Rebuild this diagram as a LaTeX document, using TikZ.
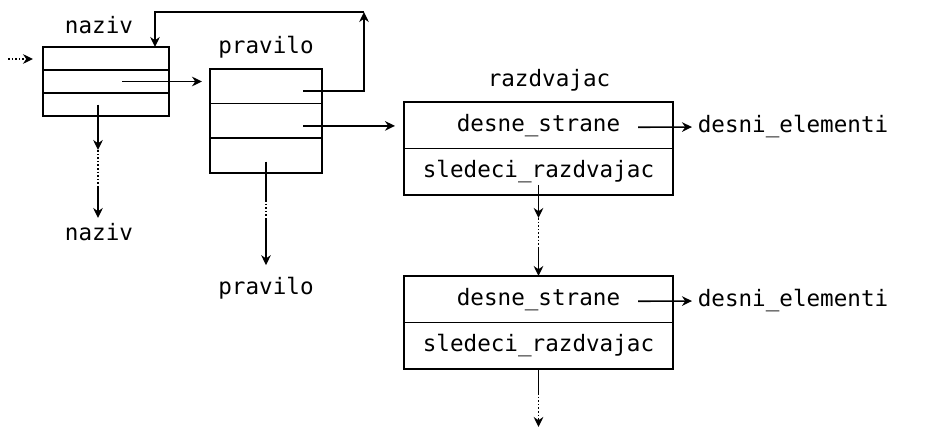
\documentclass[tikz,border=0pt]{standalone}
\usepackage{fontspec}
\setmonofont{DejaVu Sans Mono}
\usetikzlibrary{arrows.meta,positioning,calc}

\begin{document}
\begin{tikzpicture}[
  x=0.5pt,y=-0.5pt,line width=0.8pt,
  cell/.style={draw,outer sep=0pt,inner sep=0pt,font=\ttfamily\fontsize{11.3}{13}\selectfont},
  lbl/.style={inner sep=0pt,font=\ttfamily\fontsize{11.3}{13}\selectfont},
  arrow/.style={-{Stealth[length=5pt,width=4.8pt]}},
  dots/.style={densely dotted}
]
\useasboundingbox (0,0) rectangle (928,429);

% naziv record
\node[cell,minimum width=63pt,minimum height=11.5pt] (naz1) at (106,58.5) {};
\node[cell,minimum width=63pt,minimum height=11.5pt,below=0pt of naz1] (naz2) {};
\node[cell,minimum width=63pt,minimum height=11.5pt,below=0pt of naz2] (naz3) {};
\node[lbl] (naztop) at (99,25) {naziv};

% pravilo record
\node[cell,minimum width=56pt,minimum height=17.3pt] (pra1) at (266,86.3) {};
\node[cell,minimum width=56pt,minimum height=17.3pt,below=0pt of pra1] (pra2) {};
\node[cell,minimum width=56pt,minimum height=17.3pt,below=0pt of pra2] (pra3) {};
\node[lbl] (pratop) at (266,47) {pravilo};

% razdvajac records
\node[cell,minimum width=134.5pt,minimum height=23.25pt] (raz1) at (538.5,125.25) {desne\_strane};
\node[cell,minimum width=134.5pt,minimum height=23.25pt,below=0pt of raz1] (raz2) {sledeci\_razdvajac};
\node[lbl] (raztop) at (549,80) {razdvajac};

\node[cell,minimum width=134.5pt,minimum height=23.25pt] (razb1) at (538.5,299.25) {desne\_strane};
\node[cell,minimum width=134.5pt,minimum height=23.25pt,below=0pt of razb1] (razb2) {sledeci\_razdvajac};

% free labels
\node[lbl] (nazbot) at (99,232) {naziv};
\node[lbl] (prabot) at (266,288) {pravilo};
\node[lbl,anchor=west] (el1) at (697,127) {desni\_elementi};
\node[lbl,anchor=west] (el2) at (697,301) {desni\_elementi};

% helper points
\coordinate (in) at (8,59);
\coordinate (loop) at (364,12);
\coordinate (p1s) at ($(pra1.center)+(37,4.5)$);
\coordinate (p2s) at ($(pra2.center)+(37,5)$);
\coordinate (nd1) at (98,150);
\coordinate (nd2) at (98,187);
\coordinate (pd1) at (266,200);
\coordinate (pd2) at (266,220);
\coordinate (rd1) at (538.5,218);
\coordinate (rd2) at (538.5,247);
\coordinate (bd1) at (538.5,393);
\coordinate (bd2) at (538.5,427);

% connectors
\draw[arrow,dots,shorten >=5pt] (in) -- (naz1.west |- in);
\draw[arrow,shorten >=4pt] ($(naz2.center)+(16,0)$) -- (naz2 -| pra1.west);
\draw[arrow] (p1s) -| (loop);
\draw[arrow] (loop) -| ($(naz1.north)+(49,0)$);
\draw[arrow,shorten >=4.5pt] (p2s) -- (p2s -| raz1.west);

\draw[arrow] ($(naz3.center)+(-8,0)$) -- (nd1);
\draw[dots] (nd1) -- (nd2);
\draw[arrow,shorten >=7pt] (nd2) -- (nd2 |- nazbot);

\draw ($(pra3.center)+(0,6)$) -- (pd1);
\draw[dots] (pd1) -- (pd2);
\draw[arrow,shorten >=5.5pt] (pd2) -- (prabot);

\draw[arrow] ($(raz2.center)+(0,13)$) -- (rd1);
\draw[dots] (rd1) -- (rd2);
\draw[arrow] (rd2) -- (razb1.north);

\draw (razb2.south) -- (bd1);
\draw[arrow,dots] (bd1) -- (bd2);

\draw[arrow,shorten >=2.5pt] ($(raz1.center)+(99.5,2)$) -- (el1.west);
\draw[arrow,shorten >=2.5pt] ($(razb1.center)+(99.5,2)$) -- (el2.west);
\end{tikzpicture}
\end{document}
